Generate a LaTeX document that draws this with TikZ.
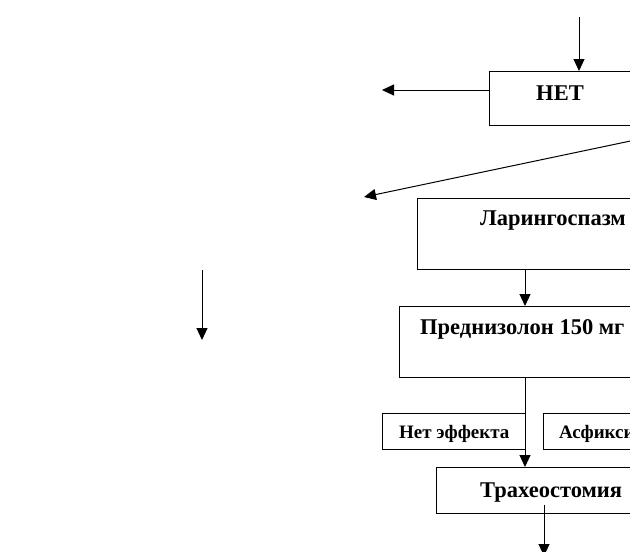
\documentclass[tikz,border=0pt]{standalone}
\usepackage{fontspec}
\setmainfont{Liberation Serif}
\usetikzlibrary{arrows.meta}
\begin{document}
\begin{tikzpicture}[x=1pt,y=-1pt,
  box/.style={draw=black, line width=1pt, rectangle, inner sep=0pt, anchor=north west},
  big/.style={font=\fontsize{22.5}{22.5}\selectfont\bfseries, inner sep=0pt},
  small/.style={font=\fontsize{19}{19}\selectfont\bfseries, inner sep=0pt},
  arr/.style={line width=1pt, -{Triangle[length=12pt,width=11pt]}},
  ln/.style={line width=1pt}]
\useasboundingbox (0,0) rectangle (630,552);
\clip (0,0) rectangle (630,552);
% boxes
\node[box, minimum width=160pt, minimum height=54pt] (net) at (489,71) {};
\node[big, anchor=base] (nett) at (560,100) {НЕТ};
\node[box, minimum width=280pt, minimum height=71pt] (lar) at (417,198) {};
\node[big, anchor=base west] (lart) at (480,225) {Ларингоспазм};
\node[box, minimum width=280pt, minimum height=71pt] (pred) at (399,306) {};
\node[big, anchor=base west] (predt) at (420,334) {Преднизолон 150 мг};
\node[box, minimum width=143pt, minimum height=36pt] (noef) at (382,413) {};
\node[small, anchor=base west] (noeft) at (399,438) {Нет эффекта};
\node[box, minimum width=200pt, minimum height=36pt] (asf) at (543,413) {};
\node[small, anchor=base west] (asft) at (559,438) {Асфиксия};
\node[box, minimum width=250pt, minimum height=46pt] (trah) at (436,467) {};
\node[big, anchor=base west] (traht) at (480,497) {Трахеостомия};
% coordinates
\coordinate (topin) at (579,17);
\coordinate (netout) at (382,90);
\coordinate (diagstart) at (640,139);
\coordinate (diagend) at (364,197);
\coordinate (lstart) at (202,270);
\coordinate (lend) at (202,340);
\coordinate (tstart) at (544,505);
\coordinate (tend) at (544,556);
% connectors
\draw[arr] (topin) -- (topin |- net.north);
\draw[arr] (net.west |- netout) -- (netout);
\draw[arr] (diagstart) -- (diagend);
\draw[arr] (lar.south -| 525,0) -- (pred.north -| 525,0);
\draw[arr] (pred.south -| 525,0) -- (trah.north -| 525,0);
\draw[arr] (lstart) -- (lend);
\draw[arr] (tstart) -- (tend);
\end{tikzpicture}
\end{document}
